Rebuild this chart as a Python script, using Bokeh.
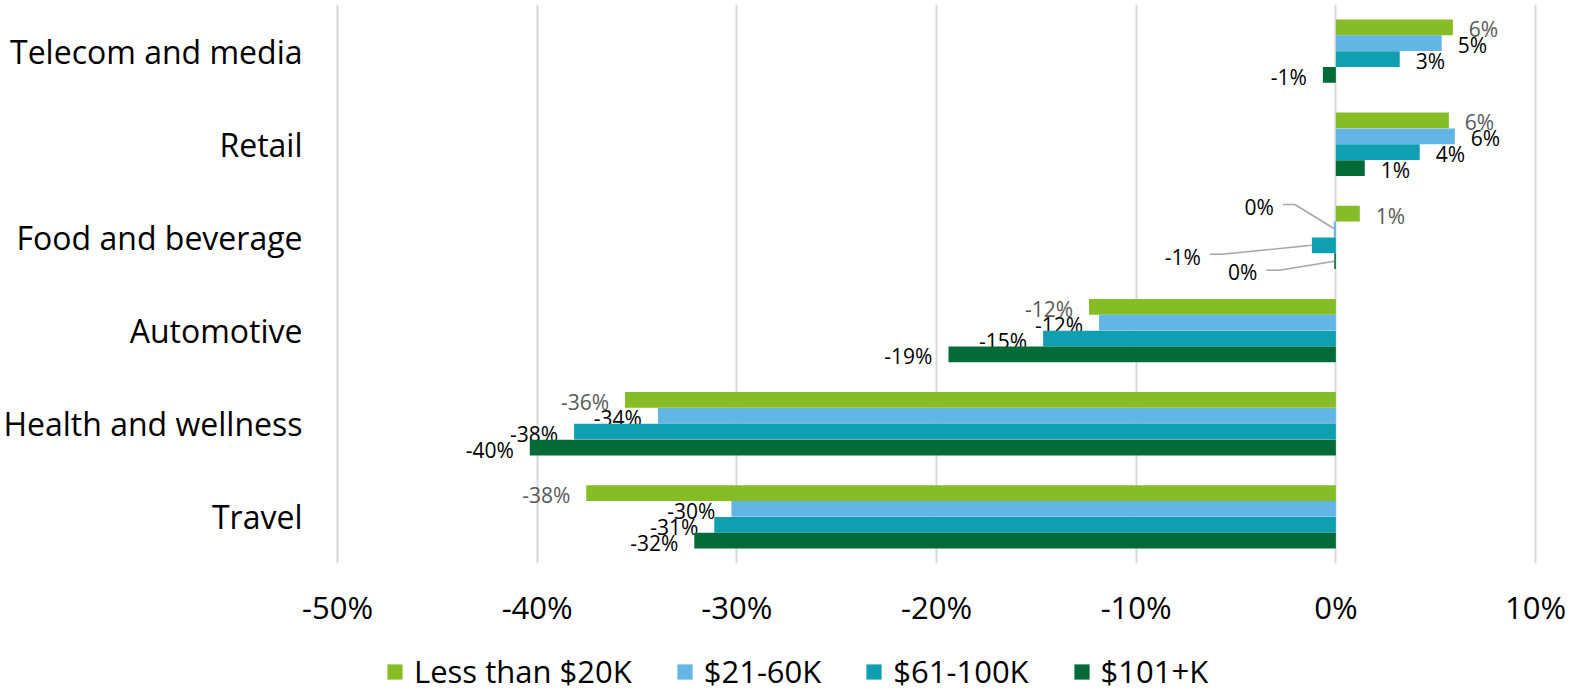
from bokeh.plotting import figure
from bokeh.layouts import column
from bokeh.models import Range1d, FixedTicker, PrintfTickFormatter, Legend, LegendItem, ColumnDataSource
from bokeh.core.properties import value
from bokeh.embed import file_html
from bokeh.resources import INLINE

# ---------------- data ----------------
categories = ["Telecom and media", "Retail", "Food and beverage",
              "Automotive", "Health and wellness", "Travel"]
series_names = ["Less than $20K", "$21-60K", "$61-100K", "$101+K"]
less_than_20k = [5.86, 5.66, 1.2, -12.36, -35.6, -37.54]
k21_60 = [5.3, 5.96, -0.1, -11.86, -33.95, -30.27]
k61_100 = [3.2, 4.2, -1.2, -14.66, -38.15, -31.13]
k101_plus = [-0.65, 1.45, -0.08, -19.4, -40.37, -32.13]
x_ticks = [-50, -40, -30, -20, -10, 0, 10]

series_values = [less_than_20k, k21_60, k61_100, k101_plus]

# ---------------- style ----------------
FONT = "Open Sans"
colors = ["#86BC25", "#62B5E5", "#109FB0", "#046A38"]
label_colors = ["#595959", "#000000", "#000000", "#000000"]
offsets = [0.255, 0.085, -0.085, -0.255]
BAR_H = 0.169

W, H = 1570, 630
LEG_H = 692 - H
BL, BR, BT, BB = 325, 25, 4, 67
X0, X1 = -50.5, 10.5
Y0, Y1 = -0.5, 5.5
PPX = (W - BL - BR) / (X1 - X0)   # pixels per x unit
PPY = (H - BT - BB) / (Y1 - Y0)   # pixels per y unit

# special label placement (pixel offsets) with leader lines: (category idx, series idx)
leader = {
    (2, 1): dict(dx=-60, dy=-22, pts=[(0, -1), (-39, -25), (-51, -25)]),
    (2, 2): dict(dx=-111, dy=12, pts=[(0, 0), (-90, 9), (-102, 9)]),
    (2, 3): dict(dx=-77, dy=11, pts=[(0, 0), (-55, 9), (-68, 9)]),
}

n = len(categories)

p = figure(width=W, height=H, x_range=Range1d(X0, X1), y_range=Range1d(Y0, Y1),
           output_backend="svg", toolbar_location=None,
           min_border_left=BL, min_border_right=BR, min_border_top=BT, min_border_bottom=BB)
p.outline_line_color = None
p.background_fill_color = "white"
p.border_fill_color = "white"

for si, vals in enumerate(series_values):
    ys = [(n - 1 - ci) + offsets[si] for ci in range(n)]
    src = ColumnDataSource(dict(y=ys, right=vals, left=[0] * n))
    p.hbar(y="y", left="left", right="right", height=BAR_H, source=src,
           fill_color=colors[si], line_color=None)

    # data labels
    lx, ly, lt, xo, yo, al = [], [], [], [], [], []
    for ci, v in enumerate(vals):
        y = ys[ci]
        txt = f"{int(round(v))}%"
        lx.append(v); ly.append(y); lt.append(txt)
        if (ci, si) in leader:
            d = leader[(ci, si)]
            xo.append(d["dx"]); yo.append(d["dy"]); al.append("right")
            xs_l = [v + px / PPX for px, py in d["pts"]]
            ys_l = [y - py / PPY for px, py in d["pts"]]
            p.line(xs_l, ys_l, line_color="#A6A6A6", line_width=1.5)
        else:
            if v >= 0:
                xo.append(16); al.append("left")
            else:
                xo.append(-16); al.append("right")
            yo.append(2)
    lsrc = ColumnDataSource(dict(x=lx, y=ly, text=lt, xo=xo, yo=yo, al=al))
    p.text(x="x", y="y", text="text", x_offset="xo", y_offset="yo", text_align="al",
           source=lsrc, text_baseline="middle", text_font=value(FONT),
           text_font_size="21px", text_color=label_colors[si])

# axes
p.xaxis.ticker = FixedTicker(ticks=x_ticks)
p.xaxis.formatter = PrintfTickFormatter(format="%d%%")
p.xaxis.axis_line_color = None
p.xaxis.major_tick_line_color = None
p.xaxis.minor_tick_line_color = None
p.xaxis.major_tick_out = 0
p.xaxis.major_tick_in = 0
p.xaxis.major_label_standoff = 22
p.xaxis.major_label_text_font = FONT
p.xaxis.major_label_text_font_size = "31px"
p.xaxis.major_label_text_color = "#000000"

p.yaxis.ticker = FixedTicker(ticks=list(range(n)))
p.yaxis.major_label_overrides = {i: categories[n - 1 - i] for i in range(n)}
p.yaxis.axis_line_color = None
p.yaxis.major_tick_line_color = None
p.yaxis.minor_tick_line_color = None
p.yaxis.major_tick_out = 0
p.yaxis.major_tick_in = 0
p.yaxis.major_label_standoff = 25
p.yaxis.major_label_text_font = FONT
p.yaxis.major_label_text_font_size = "32px"
p.yaxis.major_label_text_color = "#000000"

p.xgrid.ticker = FixedTicker(ticks=x_ticks)
p.xgrid.grid_line_color = "#D9D9D9"
p.xgrid.grid_line_width = 2
p.ygrid.visible = False

# ---------------- legend strip ----------------
lf = figure(width=W, height=LEG_H, x_range=Range1d(0, 1), y_range=Range1d(0, 1),
            output_backend="svg", toolbar_location=None, x_axis_type=None, y_axis_type=None,
            min_border_left=BL, min_border_right=BR, min_border_top=0, min_border_bottom=0)
lf.outline_line_color = None
lf.xgrid.visible = False
lf.ygrid.visible = False
# swatch renderers (kept outside the visible range; only their legend glyphs show)
dummies = [lf.hbar(y=[-10], left=[0], right=[1], height=1, fill_color=colors[i], line_color=None)
           for i in range(4)]
legend = Legend(items=[LegendItem(label=series_names[i], renderers=[dummies[i]]) for i in range(4)],
                orientation="horizontal", location=(383 - BL, 0),
                label_text_font=FONT, label_text_font_size="31px", label_text_color="#000000",
                glyph_width=19, glyph_height=19, label_standoff=10, spacing=43,
                padding=0, margin=0, background_fill_alpha=0, border_line_color=None,
                label_height=19)
lf.add_layout(legend)

layout = column(p, lf, spacing=0)
open("out.html", "w").write(file_html(layout, INLINE))
